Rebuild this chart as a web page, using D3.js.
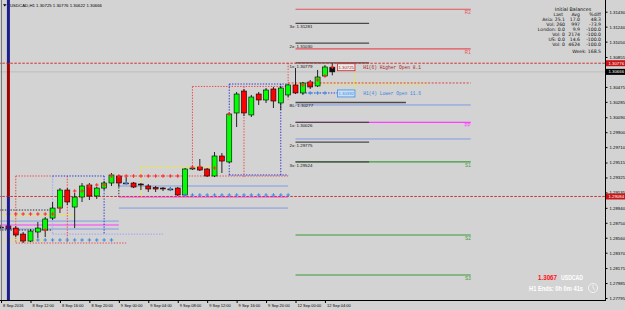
<!DOCTYPE html>
<html>
<head>
<meta charset="utf-8">
<script src="https://cdn.jsdelivr.net/npm/d3@7"></script>
<style>
  body { margin: 0; background: #d3d3d3; }
  svg { display: block; font-family: "Liberation Sans", Arial, sans-serif; }
</style>
</head>
<body>
<div id="chart"></div>
<script>
// ---- data ----
const symbol = "USDCAD";
const timeframe = "H1";

// x axis: bar index of each label
const tickBars = [0, 4, 8, 12, 16, 20, 24, 28, 32, 36, 40, 44];
const tickLabels = ["8 Sep 2016", "8 Sep 12:00", "8 Sep 16:00", "8 Sep 20:00", "9 Sep 00:00", "9 Sep 04:00",
  "9 Sep 08:00", "9 Sep 12:00", "9 Sep 16:00", "9 Sep 20:00", "12 Sep 00:00", "12 Sep 04:00"];

const priceTicks = [1.31430, 1.31240, 1.31050, 1.30855, 1.30665, 1.30475, 1.30285, 1.30090, 1.29900, 1.29710,
  1.29515, 1.29325, 1.29135, 1.28940, 1.28750, 1.28560, 1.28370, 1.28175, 1.27985, 1.27795];

// H1 candles, 8 Sep 08:00 -> 12 Sep 05:00
const opens = [1.28696, 1.28709, 1.28683, 1.28607, 1.28518, 1.28633, 1.28658, 1.28810, 1.28937, 1.29166,
  1.28950, 1.29077, 1.29230, 1.29090, 1.29191, 1.29255, 1.29344, 1.29255, 1.29255, 1.29242,
  1.29217, 1.29198, 1.29191, 1.29179, 1.29191, 1.29103, 1.29433, 1.29458, 1.29433, 1.29344,
  1.29598, 1.29522, 1.30144, 1.30423, 1.30119, 1.30385, 1.30309, 1.30449, 1.30271, 1.30373,
  1.30500, 1.30398, 1.30538, 1.30487, 1.30614, 1.30725];
const highs = [1.28722, 1.28734, 1.28709, 1.28633, 1.28671, 1.28760, 1.28823, 1.29014, 1.29191, 1.29191,
  1.29128, 1.29255, 1.29255, 1.29204, 1.29280, 1.29382, 1.29357, 1.29331, 1.29268, 1.29255,
  1.29242, 1.29217, 1.29204, 1.29204, 1.29204, 1.29445, 1.29471, 1.29560, 1.29445, 1.29649,
  1.29636, 1.30144, 1.30411, 1.30449, 1.30373, 1.30411, 1.30461, 1.30474, 1.30487, 1.30512,
  1.30715, 1.30538, 1.30563, 1.30690, 1.30753, 1.30776];
const lows = [1.28671, 1.28645, 1.28569, 1.28493, 1.28506, 1.28556, 1.28569, 1.28785, 1.28874, 1.28976,
  1.28683, 1.29014, 1.29039, 1.29052, 1.29166, 1.29217, 1.29204, 1.29242, 1.29191, 1.29166,
  1.29141, 1.29141, 1.29153, 1.29153, 1.29090, 1.29090, 1.29420, 1.29407, 1.29331, 1.29331,
  1.29382, 1.29509, 1.29966, 1.30106, 1.30093, 1.30246, 1.30271, 1.30207, 1.30182, 1.30347,
  1.30385, 1.30373, 1.30449, 1.30474, 1.30601, 1.30622];
const closes = [1.28690, 1.28671, 1.28595, 1.28518, 1.28645, 1.28683, 1.28798, 1.28937, 1.29166, 1.29014,
  1.29077, 1.29217, 1.29090, 1.29191, 1.29255, 1.29357, 1.29255, 1.29249, 1.29204, 1.29236,
  1.29179, 1.29179, 1.29185, 1.29172, 1.29103, 1.29433, 1.29445, 1.29420, 1.29344, 1.29598,
  1.29534, 1.30131, 1.30385, 1.30144, 1.30347, 1.30309, 1.30436, 1.30296, 1.30461, 1.30500,
  1.30398, 1.30525, 1.30474, 1.30601, 1.30728, 1.30666];

const dayHigh = 1.30776;
const bid = 1.30666;
const weekLine = 1.29084;

// daily pivots for 12 Sep (bars 40 -> 63.8)
const pivotNames = ["R2", "R1", "PP", "S1", "S2", "S3"];
const pivotValues = [1.31461, 1.30957, 1.30026, 1.29524, 1.28595, 1.28087];
const midValues = [1.30246, 1.29814];
// 9 Sep and 8 Sep pivot remnants: [mid, pp, mid]
const day2Levels = [1.29217, 1.29077, 1.28937];
const day1Levels = [1.28772, 1.28722, 1.28671];

// initial balance extensions for 12 Sep
const balanceNames = ["3x", "2x", "1x", "BL", "1x", "2x", "3x"];
const balanceValues = [1.31281, 1.31030, 1.30779, 1.30277, 1.30026, 1.29775, 1.29524];

// session box lines: [bar from, bar to, price from, price to]
const redSessionLines = [
  [2, 7, 1.29344, 1.29344], [2, 2, 1.29344, 1.28493], [2, 17, 1.28493, 1.28493], [9, 9, 1.29344, 1.28493],
  [16, 39, 1.29344, 1.29344], [26, 26, 1.30481, 1.29458], [26, 39, 1.30481, 1.30481],
  [33, 33, 1.30481, 1.29331], [39, 39, 1.30779, 1.30309]
];
const blueSessionLines = [
  [7, 14, 1.29344, 1.29344], [14, 14, 1.29344, 1.28607], [31, 31, 1.30512, 1.29357],
  [31, 39, 1.30512, 1.30512], [38, 38, 1.30512, 1.29357], [31, 39, 1.29357, 1.29357],
  [41, 47, 1.30398, 1.30398]
];
const lavenderSessionLines = [[7, 7, 1.29344, 1.28607], [7, 22, 1.28607, 1.28607]];
const yellowSessionLines = [
  [0, 10, 1.28849, 1.28849], [2, 2, 1.28849, 1.28531], [0, 6, 1.28531, 1.28531],
  [19, 29, 1.29458, 1.29458], [19, 19, 1.29458, 1.29077], [40, 58, 1.30512, 1.30512], [48, 48, 1.30779, 1.30373]
];
const blackSessionLines = [[-1, 7, 1.28912, 1.28912], [-1, 7, 1.28658, 1.28658], [16, 16, 1.29344, 1.29077]];
const openLevelLine = [39, 63.8, 1.30525, 1.30525];

// marker crosses: [bar, price]
const redMarkers = [
  [1, 1.28861], [2, 1.28861], [3, 1.28861], [4, 1.28861], [5, 1.28861], [6, 1.28861], [7, 1.28861],
  [15, 1.29344], [16, 1.29344], [17, 1.29344], [18, 1.29344], [19, 1.29344], [20, 1.29344], [21, 1.29344],
  [22, 1.29344], [23, 1.29344], [24, 1.29344],
  [2, 1.28645], [6, 1.28658], [8, 1.28937], [10, 1.29153], [11, 1.29153], [12, 1.29217], [13, 1.29230],
  [14, 1.29230], [26, 1.29458], [27, 1.29458], [29, 1.29445], [31, 1.30131],
  [41, 1.30500], [42, 1.30525], [43, 1.30563], [44, 1.30614], [45, 1.30728]
];
const blueMarkers = [
  [5, 1.28531], [6, 1.28531], [7, 1.28531], [8, 1.28531], [9, 1.28531], [10, 1.28531], [11, 1.28531],
  [12, 1.28531], [13, 1.28531], [14, 1.28531], [15, 1.28531],
  [17, 1.29255], [23, 1.29179],
  [25, 1.29103], [26, 1.29103], [27, 1.29103], [28, 1.29103], [29, 1.29103], [30, 1.29103], [31, 1.29103],
  [32, 1.29103], [33, 1.29103], [34, 1.29103], [35, 1.29103], [36, 1.29103], [37, 1.29103], [38, 1.29103],
  [39, 1.29103], [42, 1.30398], [43, 1.30398], [44, 1.30398]
];

const higherOpen = { price: 1.30725, text: "H1(6) Higher Open 8.1" };
const lowerOpen = { price: 1.30392, text: "H1(4) Lower Open 11.6" };

// Initial Balances panel
const ibRows = ["Asia:", "Vol:", "London:", "Vol:", "US:", "Vol:"];
const ibLast = ["25.1", "260", "0.0", "0", "0.0", "0"];
const ibAvg = ["17.0", "997", "9.9", "2174", "14.6", "4624"];
const ibDiff = ["48.3", "-73.9", "-100.0", "-100.0", "-100.0", "-100.0"];
const ibWeek = "168.5";
const barEnds = "H1 Ends: 0h 0m 41s";

// ---- drawing ----
const W = 625, H = 310, plotR = 605, plotB = 300;

const x = d3.scaleLinear().domain([0, 40]).range([1.05, 295.5]);
const y = d3.scaleLinear().domain([1.27795, 1.31430]).range([298, 11.7]);

const svg = d3.select("#chart").append("svg").attr("width", W).attr("height", H);
svg.append("rect").attr("width", W).attr("height", H).attr("fill", "#d3d3d3");
svg.append("defs").append("clipPath").attr("id", "plot")
  .append("rect").attr("width", plotR).attr("height", plotB);

const g = svg.append("g").attr("clip-path", "url(#plot)");

function segs(list, color, dash, width) {
  g.append("g").selectAll("line").data(list).enter().append("line")
    .attr("x1", (d) => x(d[0])).attr("x2", (d) => x(d[1]))
    .attr("y1", (d) => y(d[2])).attr("y2", (d) => y(d[3]))
    .attr("stroke", color).attr("stroke-width", width || 1)
    .attr("stroke-dasharray", dash || null);
}

function levels(values, b0, b1, color, width) {
  segs(values.map((v) => [b0, b1, v, v]), color, null, width);
}

// pivot lines
levels(day1Levels.filter((_, i) => i !== 1), -1, 16, "#7f9be6", 1);
levels([day1Levels[1]], -1, 16, "#ff3cff", 1);
levels(day2Levels.filter((_, i) => i !== 1), 16, 39, "#7f9be6", 1);
levels([day2Levels[1]], 16, 39, "#ff3cff", 1);
levels(midValues, 40, 63.8, "#7f9be6", 1);
const pivotColor = (n) => n[0] === "R" ? "#e8505a" : n[0] === "S" ? "#3c9a3c" : "#ff3cff";
pivotValues.forEach((v, i) => levels([v], 40, 63.8, pivotColor(pivotNames[i]), 1.2));

// session boxes
const dot = "1.4,1.4";
segs(yellowSessionLines, "#f4f000", dot, 1);
segs(blackSessionLines, "#303030", dot, 1);
segs(lavenderSessionLines, "#a8a8f8", dot, 1.2);
segs(redSessionLines, "#f04848", dot, 1);
segs(blueSessionLines, "#2a3ad8", dot, 1);
segs([openLevelLine], "#e04040", "2,1.5", 1);

// balance extension lines
balanceValues.forEach((v, i) => {
  const b1 = balanceNames[i] === "BL" ? 55 : 50;
  levels([v], 40, b1, "#4a4a4a", 1.3);
});

// full width lines
segs([[-2, 90, dayHigh, dayHigh], [-2, 90, weekLine, weekLine]], "#d03030", "2.5,1.5", 1);
segs([[-2, 90, bid, bid]], "#bdbdbd", null, 1);

// candles
const bars = opens.map((o, i) => ({ i, o, h: highs[i], l: lows[i], c: closes[i] }));
g.append("g").selectAll("line").data(bars).enter().append("line")
  .attr("x1", (d) => x(d.i)).attr("x2", (d) => x(d.i))
  .attr("y1", (d) => y(d.h)).attr("y2", (d) => y(d.l))
  .attr("stroke", "#111").attr("stroke-width", 0.9);
g.append("g").selectAll("rect").data(bars).enter().append("rect")
  .attr("x", (d) => x(d.i) - 2.5).attr("width", 5)
  .attr("y", (d) => y(Math.max(d.o, d.c)))
  .attr("height", (d) => Math.max(0.9, Math.abs(y(d.o) - y(d.c))))
  .attr("fill", (d) => d.i === bars.length - 1 ? "#111" : d.c >= d.o ? "#00ff00" : "#ff0000")
  .attr("stroke", "#000").attr("stroke-width", 0.6);

// marker crosses
function crosses(list, color) {
  g.append("g").selectAll("path").data(list).enter().append("path")
    .attr("transform", (d) => `translate(${x(d[0])},${y(d[1])})`)
    .attr("d", "M-1.8,0H1.8M0,-1.8V1.8")
    .attr("stroke", color).attr("stroke-width", 1.1);
}
crosses(redMarkers, "#ff2a2a");
crosses(blueMarkers, "#3f8fe0");

// day separator bar at 8 Sep 09:00
segs([[1, 1, 1.33, dayHigh], [1, 1, weekLine, 1.26]], "#1c1c8c", null, 3);
segs([[1, 1, dayHigh, weekLine]], "#a00000", null, 3);

// labels inside the plot
const tiny = (sel, size) => sel.attr("font-size", size).attr("dominant-baseline", "central");

pivotNames.forEach((n, i) => {
  tiny(g.append("text"), 4.6).attr("x", x(63.8)).attr("y", y(pivotValues[i]) + 3.3)
    .attr("text-anchor", "end").attr("fill", pivotColor(n)).text(n);
});
balanceValues.forEach((v, i) => {
  tiny(g.append("text"), 4.4).attr("x", x(40) - 6).attr("y", y(v) + 3.2)
    .attr("fill", "#111").text(`${balanceNames[i]}: ${v.toFixed(5)}`);
});

function openTag(o, stroke, fill, ink) {
  const yy = y(o.price);
  g.append("rect").attr("x", x(45.7)).attr("y", yy - 3.5).attr("width", 17.5).attr("height", 7)
    .attr("fill", fill).attr("stroke", stroke).attr("stroke-width", 0.8);
  tiny(g.append("text"), 4.3).attr("x", x(45.7) + 8.75).attr("y", yy).attr("text-anchor", "middle")
    .attr("fill", ink).text(o.price.toFixed(5));
  tiny(g.append("text"), 4.6).attr("x", x(49.2)).attr("y", yy + 0.5)
    .attr("font-family", "'Liberation Mono', monospace").attr("fill", ink).text(o.text);
}
openTag(higherOpen, "#d02020", "#ececec", "#b01818");
openTag(lowerOpen, "#3f8fe0", "#c8e0fa", "#3a86dc");

// Initial Balances panel
const ib = svg.append("g").attr("font-family", "'DejaVu Sans', sans-serif").attr("fill", "#111");
tiny(ib.append("text"), 4.8).attr("x", 573).attr("y", 9).attr("text-anchor", "middle").text("Initial Balances");
[["Last", 563], ["Avg", 580], ["%diff", 601]].forEach(([t, xx]) => {
  tiny(ib.append("text"), 4.6).attr("x", xx).attr("y", 14.3).attr("text-anchor", "end").text(t);
});
ibRows.forEach((r, i) => {
  const yy = 19.3 + i * 5;
  tiny(ib.append("text"), 4.6).attr("x", 565).attr("y", yy).attr("text-anchor", "end").text(`${r} ${ibLast[i]}`);
  tiny(ib.append("text"), 4.6).attr("x", 580).attr("y", yy).attr("text-anchor", "end").text(ibAvg[i]);
  tiny(ib.append("text"), 4.6).attr("x", 601).attr("y", yy).attr("text-anchor", "end").text(ibDiff[i]);
});
tiny(ib.append("text"), 4.6).attr("x", 601).attr("y", 51.7).attr("text-anchor", "end").text(`Week: ${ibWeek}`);

// price / timer in bottom right
const last = closes[closes.length - 1];
svg.append("text").attr("x", 538).attr("y", 280).attr("font-size", 7.5).attr("font-weight", "bold")
  .attr("fill", "#ff1010").attr("textLength", 19).attr("lengthAdjust", "spacingAndGlyphs").text(last.toFixed(4));
svg.append("text").attr("x", 561).attr("y", 280).attr("font-size", 7.5).attr("font-weight", "bold")
  .attr("fill", "#fff").attr("textLength", 22).attr("lengthAdjust", "spacingAndGlyphs").text(symbol);
svg.append("text").attr("x", 529).attr("y", 291).attr("font-size", 7).attr("font-weight", "bold")
  .attr("fill", "#fff").attr("textLength", 54).attr("lengthAdjust", "spacingAndGlyphs").text(barEnds);
svg.append("circle").attr("cx", 593).attr("cy", 288).attr("r", 4.6).attr("fill", "none")
  .attr("stroke", "#f4f4f4").attr("stroke-width", 0.9);
svg.append("path").attr("d", "M593,288V284.5M593,288L595,290").attr("stroke", "#f4f4f4").attr("stroke-width", 0.8);

// title
svg.append("path").attr("d", "M3,4.3H6.6L4.8,6.6Z").attr("fill", "#000");
tiny(svg.append("text"), 4.4).attr("x", 10).attr("y", 5.2).attr("fill", "#000")
  .attr("textLength", 92).attr("lengthAdjust", "spacingAndGlyphs")
  .text(`${symbol},${timeframe} ${[opens, highs, lows, closes].map((a) => a[a.length - 1].toFixed(5)).join(" ")}`);

// frame and axes
svg.append("line").attr("x1", 1.5).attr("x2", 1.5).attr("y1", 0).attr("y2", plotB).attr("stroke", "#7a7a7a");
svg.append("line").attr("x1", plotR + 0.5).attr("x2", plotR + 0.5).attr("y1", 0).attr("y2", plotB + 1).attr("stroke", "#000");
svg.append("line").attr("x1", 0).attr("x2", plotR + 1).attr("y1", plotB + 0.5).attr("y2", plotB + 0.5).attr("stroke", "#000");

const yAxis = svg.append("g").attr("transform", `translate(${plotR + 0.5},0)`)
  .call(d3.axisRight(y).tickValues(priceTicks).tickFormat(d3.format(".5f")).tickSize(2).tickPadding(2));
yAxis.select(".domain").remove();
yAxis.selectAll("text").attr("font-size", 4.3).attr("fill", "#000").attr("font-family", "'Liberation Sans', Arial");

const xAxis = svg.append("g").attr("transform", `translate(0,${plotB + 0.5})`)
  .call(d3.axisBottom(x).tickValues(tickBars).tickFormat((d, i) => tickLabels[i]).tickSize(2.5).tickPadding(1));
xAxis.select(".domain").remove();
xAxis.selectAll("text").attr("font-size", 4).attr("fill", "#000").attr("text-anchor", "start")
  .attr("dx", 1.5).attr("font-family", "'Liberation Sans', Arial");

// price tags on the axis
function axisTag(p, fill, ink) {
  svg.append("rect").attr("x", plotR + 1).attr("y", y(p) - 3).attr("width", W - plotR).attr("height", 6).attr("fill", fill);
  tiny(svg.append("text"), 4.3).attr("x", plotR + 3.5).attr("y", y(p)).attr("fill", ink).text(p.toFixed(5));
}
axisTag(dayHigh, "#c81414", "#ffffff");
axisTag(bid, "#000000", "#ffffff");
axisTag(weekLine, "#c81414", "#ffffff");
</script>
</body>
</html>
